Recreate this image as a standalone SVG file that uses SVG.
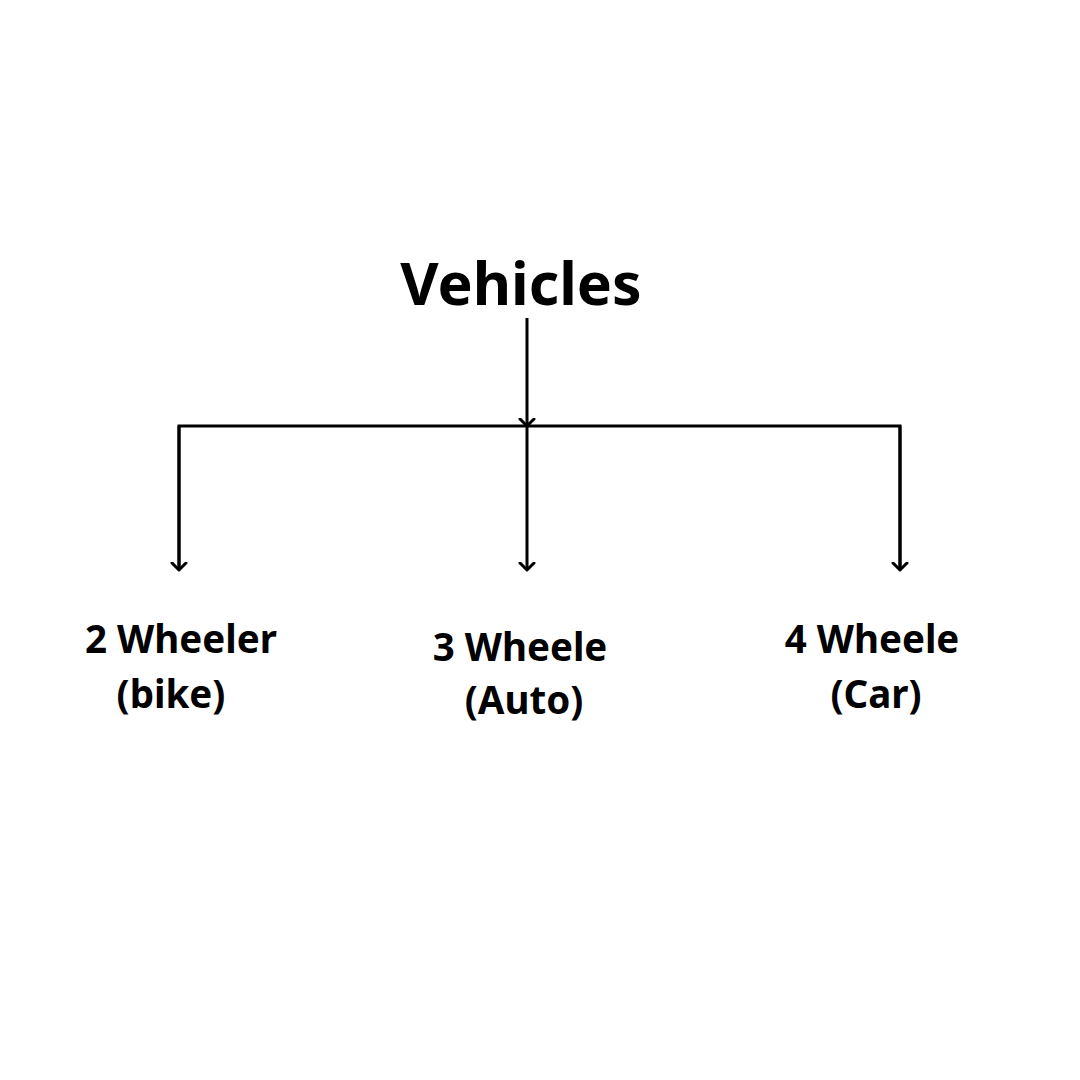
<svg xmlns="http://www.w3.org/2000/svg" width="1080" height="1080" viewBox="0 0 1080 1080">
<defs>
<marker id="arr" markerWidth="20" markerHeight="20" refX="8" refY="10" orient="auto" markerUnits="userSpaceOnUse">
<path d="M1,3 L8,10 L1,17" fill="none" stroke="#000" stroke-width="3" stroke-linecap="round" stroke-linejoin="round"/>
</marker>
<style>
.t{font-family:"Noto Sans","Open Sans",sans-serif;font-weight:bold;fill:#000;text-anchor:middle}
.c{fill:none;stroke:#000;stroke-width:3}
</style>
</defs>
<rect width="1080" height="1080" fill="#fff"/>
<g id="root"><text class="t" x="521" y="305" font-size="59">Vehicles</text></g>
<g id="n2"><text class="t" x="181" y="653" font-size="38.5">2 Wheeler</text><text class="t" x="171" y="708" font-size="38.5">(bike)</text></g>
<g id="n3"><text class="t" x="520" y="661" font-size="38.5">3 Wheele</text><text class="t" x="524" y="714" font-size="38.5">(Auto)</text></g>
<g id="n4"><text class="t" x="872" y="653" font-size="38.5">4 Wheele</text><text class="t" x="876" y="708" font-size="38.5">(Car)</text></g>
<g id="connectors">
<line class="c" x1="527" y1="318" x2="527" y2="426" marker-end="url(#arr)"/>
<polyline class="c" points="179,570 179,426 900,426 900,570"/>
<line class="c" x1="179" y1="426" x2="179" y2="570" marker-end="url(#arr)"/>
<line class="c" x1="527" y1="426" x2="527" y2="570" marker-end="url(#arr)"/>
<line class="c" x1="900" y1="426" x2="900" y2="570" marker-end="url(#arr)"/>
</g>
</svg>
